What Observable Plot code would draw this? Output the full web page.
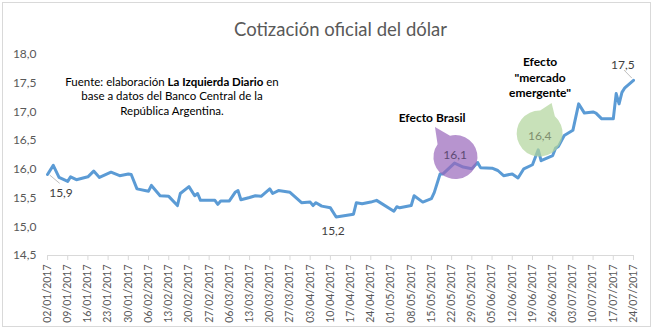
<!DOCTYPE html>
<html>
<head>
<meta charset="utf-8">
<script src="https://cdn.jsdelivr.net/npm/d3@7"></script>
<script src="https://cdn.jsdelivr.net/npm/@observablehq/plot@0.6"></script>
<style>
  html, body { margin: 0; padding: 0; background: #fff; }
  svg text { white-space: pre; }
</style>
</head>
<body>
<div id="chart"></div>
<script>
const dates = [
  "2017-01-02","2017-01-04","2017-01-06","2017-01-09","2017-01-10","2017-01-12",
  "2017-01-16","2017-01-18","2017-01-20","2017-01-24","2017-01-27","2017-01-30","2017-01-31",
  "2017-02-02","2017-02-06","2017-02-07","2017-02-10","2017-02-13","2017-02-16","2017-02-17",
  "2017-02-20","2017-02-22","2017-02-23","2017-02-24",
  "2017-03-01","2017-03-02","2017-03-03","2017-03-06","2017-03-08","2017-03-09","2017-03-10",
  "2017-03-13","2017-03-15","2017-03-17","2017-03-20","2017-03-21","2017-03-23","2017-03-27","2017-03-31",
  "2017-04-03","2017-04-04","2017-04-05","2017-04-07","2017-04-10","2017-04-12","2017-04-18",
  "2017-04-19","2017-04-21","2017-04-24","2017-04-26",
  "2017-05-02","2017-05-03","2017-05-04","2017-05-08","2017-05-09","2017-05-12","2017-05-15",
  "2017-05-16","2017-05-18","2017-05-19","2017-05-23","2017-05-26","2017-05-29","2017-05-31",
  "2017-06-01","2017-06-05","2017-06-07","2017-06-09","2017-06-12","2017-06-14","2017-06-16",
  "2017-06-19","2017-06-21","2017-06-22","2017-06-26","2017-06-27","2017-06-28","2017-06-30",
  "2017-07-03","2017-07-05","2017-07-07","2017-07-10","2017-07-11","2017-07-13","2017-07-17",
  "2017-07-18","2017-07-19","2017-07-20","2017-07-21","2017-07-24"
];
const values = [
  15.91,16.07,15.86,15.79,15.87,15.82,
  15.87,15.97,15.86,15.95,15.89,15.92,15.91,
  15.66,15.62,15.72,15.54,15.53,15.37,15.58,
  15.70,15.54,15.58,15.46,
  15.46,15.39,15.45,15.45,15.60,15.63,15.47,
  15.51,15.54,15.53,15.66,15.58,15.63,15.60,15.42,
  15.43,15.37,15.42,15.36,15.33,15.17,15.22,
  15.42,15.40,15.43,15.46,
  15.27,15.35,15.33,15.37,15.54,15.43,15.49,
  15.60,15.92,15.92,16.11,16.04,16.01,16.12,
  16.03,16.02,15.98,15.89,15.92,15.85,16.01,
  16.08,16.34,16.15,16.24,16.37,16.40,16.59,
  16.68,17.14,16.98,17.00,16.98,16.88,16.88,
  17.32,17.14,17.34,17.42,17.55
];
const yTicks = [14.5, 15, 15.5, 16, 16.5, 17, 17.5, 18];
const titleText = "Cotización oficial del dólar";

const data = dates.map((d, i) => ({date: new Date(d), value: values[i]}));
const start = new Date("2017-01-02"), end = new Date("2017-07-24");
const weekTicks = d3.utcMonday.range(start, new Date("2017-07-25"));
const fmt = v => v.toFixed(1).replace(".", ",");
const day = n => new Date(start.getTime() + n * 864e5);

const chart = Plot.plot({
  width: 653, height: 329,
  marginLeft: 47, marginRight: 20, marginTop: 54, marginBottom: 74,
  style: {fontFamily: "Lato, sans-serif", fontSize: "12px", color: "#595959", background: "white"},
  x: {type: "utc", domain: [start, end]},
  y: {domain: [14.5, 18]},
  marks: [
    Plot.ruleY([14.5], {stroke: "#d9d9d9"}),
    Plot.axisX({ticks: weekTicks, tickFormat: d3.utcFormat("%d/%m/%Y"), tickRotate: -90,
      tickSize: 5, stroke: "#d9d9d9", fill: "#595959", fontSize: 10.5, label: null}),
    Plot.axisY({ticks: yTicks, tickFormat: fmt, tickSize: 0, tickPadding: 11,
      fill: "#595959", fontSize: 12, label: null}),
    Plot.line(data, {x: "date", y: "value", stroke: "#5b9bd5", strokeWidth: 3,
      strokeLinejoin: "round", strokeLinecap: "round"}),
    Plot.text([titleText], {frameAnchor: "top", dy: -32, fontSize: 18.5, fill: "#595959"})
  ]
});
document.getElementById("chart").appendChild(chart);

const sx = chart.scale("x"), sy = chart.scale("y");
const X = d => sx.apply(d), Y = v => sy.apply(v);
const svg = d3.select(chart);

// frame
svg.insert("rect", ":first-child").attr("x", 2.5).attr("y", 2.5).attr("width", 648).attr("height", 324)
  .attr("fill", "white").attr("stroke", "#d9d9d9");

// speech bubbles
function bubble(cx, cy, r, tx, ty, fill) {
  const a = Math.atan2(ty - cy, tx - cx), w = 0.35;
  const b1 = [cx + r * Math.cos(a - w), cy + r * Math.sin(a - w)];
  const b2 = [cx + r * Math.cos(a + w), cy + r * Math.sin(a + w)];
  svg.append("path")
    .attr("d", `M${b1}L${tx},${ty}L${b2}A${r},${r} 0 1 1 ${b1}Z`)
    .attr("fill", fill).attr("fill-opacity", 0.7);
}
bubble(X(day(141.5)), Y(16.206), 22, X(day(134.4)), Y(16.728), "#9966bb");
bubble(X(day(170.66)), Y(16.615), 23, X(day(174.8)), Y(17.146), "#b0d49b");

function label(d, v, text, opts = {}) {
  return svg.append("text").attr("x", X(d)).attr("y", Y(v)).attr("dy", "0.35em")
    .attr("text-anchor", "middle").attr("font-family", "Lato, sans-serif")
    .attr("font-size", opts.size || 12).attr("font-weight", opts.weight || "normal")
    .attr("fill", opts.fill || "#404040").text(text);
}
function leader(d1, v1, d2, v2) {
  svg.append("line").attr("x1", X(d1)).attr("y1", Y(v1)).attr("x2", X(d2)).attr("y2", Y(v2))
    .attr("stroke", "#bfbfbf").attr("stroke-width", 1);
}

label(day(141.4), 16.24, "16,1", {fill: "#5d4a73"});
label(day(170.7), 16.57, "16,4", {fill: "#7f8f6f"});
leader(day(0.94), 15.892, day(4.4), 15.747);
label(day(4.85), 15.578, "15,9");
label(day(99.07), 14.916, "15,2");
leader(day(199.9), 17.72, day(202.6), 17.58);
label(day(199.5), 17.81, "17,5");

label(day(133.4), 16.885, "Efecto Brasil", {weight: "bold", fill: "#000"});
label(day(170.8), 17.86, "Efecto", {weight: "bold", fill: "#000"});
label(day(170.8), 17.58, "\"mercado", {weight: "bold", fill: "#000"});
label(day(170.8), 17.32, "emergente\"", {weight: "bold", fill: "#000"});

const f1 = label(day(43.3), 17.51, "", {fill: "#000", size: 11.5});
f1.append("tspan").text("Fuente: elaboración ");
f1.append("tspan").attr("font-weight", "bold").text("La Izquierda Diario");
f1.append("tspan").text(" en");
label(day(43.3), 17.265, "base a datos del Banco Central de la", {fill: "#000", size: 11.5});
label(day(43.3), 17.005, "República Argentina.", {fill: "#000", size: 11.5});
</script>
</body>
</html>
